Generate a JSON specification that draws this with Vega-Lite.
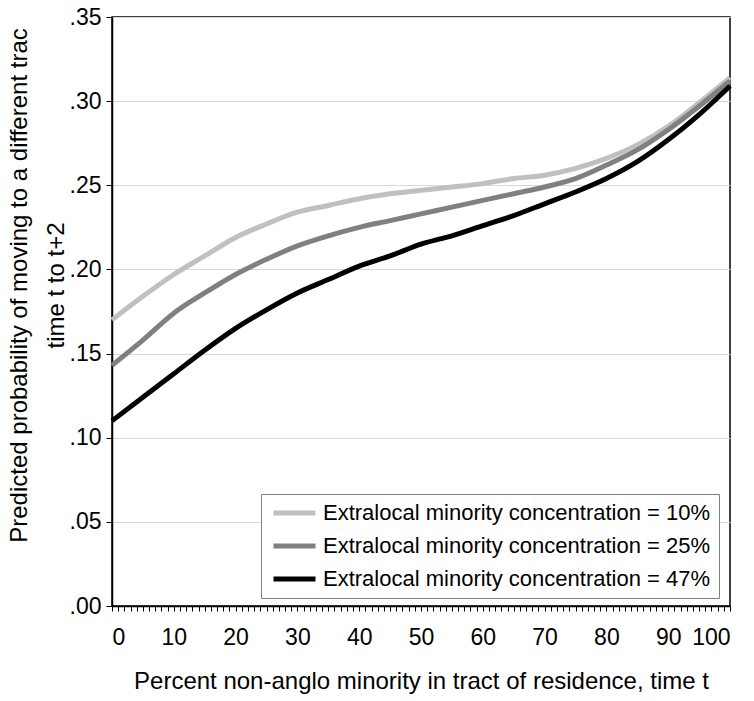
{
  "$schema": "https://vega.github.io/schema/vega-lite/v6.json",
  "autosize": {"type": "none"},
  "padding": {"left": 112, "top": 17, "right": 24, "bottom": 95},
  "width": 618,
  "height": 589,
  "background": "white",
  "config": {
    "font": "Liberation Sans",
    "view": {"stroke": "black", "strokeWidth": 1.5},
    "axis": {"labelFont": "Liberation Sans", "titleFont": "Liberation Sans", "labelColor": "black", "titleColor": "black", "titleFontWeight": "normal"}
  },
  "datasets": {
    "curves": [
      {"x": 0, "s": "Extralocal minority concentration = 10%", "p": 0.170},
      {"x": 5, "s": "Extralocal minority concentration = 10%", "p": 0.184},
      {"x": 10, "s": "Extralocal minority concentration = 10%", "p": 0.197},
      {"x": 15, "s": "Extralocal minority concentration = 10%", "p": 0.208},
      {"x": 20, "s": "Extralocal minority concentration = 10%", "p": 0.219},
      {"x": 25, "s": "Extralocal minority concentration = 10%", "p": 0.227},
      {"x": 30, "s": "Extralocal minority concentration = 10%", "p": 0.234},
      {"x": 35, "s": "Extralocal minority concentration = 10%", "p": 0.238},
      {"x": 40, "s": "Extralocal minority concentration = 10%", "p": 0.242},
      {"x": 45, "s": "Extralocal minority concentration = 10%", "p": 0.245},
      {"x": 50, "s": "Extralocal minority concentration = 10%", "p": 0.247},
      {"x": 55, "s": "Extralocal minority concentration = 10%", "p": 0.249},
      {"x": 60, "s": "Extralocal minority concentration = 10%", "p": 0.251},
      {"x": 65, "s": "Extralocal minority concentration = 10%", "p": 0.254},
      {"x": 70, "s": "Extralocal minority concentration = 10%", "p": 0.256},
      {"x": 75, "s": "Extralocal minority concentration = 10%", "p": 0.260},
      {"x": 80, "s": "Extralocal minority concentration = 10%", "p": 0.266},
      {"x": 85, "s": "Extralocal minority concentration = 10%", "p": 0.274},
      {"x": 90, "s": "Extralocal minority concentration = 10%", "p": 0.285},
      {"x": 95, "s": "Extralocal minority concentration = 10%", "p": 0.299},
      {"x": 100, "s": "Extralocal minority concentration = 10%", "p": 0.314},
      {"x": 0, "s": "Extralocal minority concentration = 25%", "p": 0.143},
      {"x": 5, "s": "Extralocal minority concentration = 25%", "p": 0.158},
      {"x": 10, "s": "Extralocal minority concentration = 25%", "p": 0.174},
      {"x": 15, "s": "Extralocal minority concentration = 25%", "p": 0.186},
      {"x": 20, "s": "Extralocal minority concentration = 25%", "p": 0.197},
      {"x": 25, "s": "Extralocal minority concentration = 25%", "p": 0.206},
      {"x": 30, "s": "Extralocal minority concentration = 25%", "p": 0.214},
      {"x": 35, "s": "Extralocal minority concentration = 25%", "p": 0.220},
      {"x": 40, "s": "Extralocal minority concentration = 25%", "p": 0.225},
      {"x": 45, "s": "Extralocal minority concentration = 25%", "p": 0.229},
      {"x": 50, "s": "Extralocal minority concentration = 25%", "p": 0.233},
      {"x": 55, "s": "Extralocal minority concentration = 25%", "p": 0.237},
      {"x": 60, "s": "Extralocal minority concentration = 25%", "p": 0.241},
      {"x": 65, "s": "Extralocal minority concentration = 25%", "p": 0.245},
      {"x": 70, "s": "Extralocal minority concentration = 25%", "p": 0.249},
      {"x": 75, "s": "Extralocal minority concentration = 25%", "p": 0.254},
      {"x": 80, "s": "Extralocal minority concentration = 25%", "p": 0.262},
      {"x": 85, "s": "Extralocal minority concentration = 25%", "p": 0.271},
      {"x": 90, "s": "Extralocal minority concentration = 25%", "p": 0.283},
      {"x": 95, "s": "Extralocal minority concentration = 25%", "p": 0.297},
      {"x": 100, "s": "Extralocal minority concentration = 25%", "p": 0.312},
      {"x": 0, "s": "Extralocal minority concentration = 47%", "p": 0.110},
      {"x": 5, "s": "Extralocal minority concentration = 47%", "p": 0.124},
      {"x": 10, "s": "Extralocal minority concentration = 47%", "p": 0.138},
      {"x": 15, "s": "Extralocal minority concentration = 47%", "p": 0.152},
      {"x": 20, "s": "Extralocal minority concentration = 47%", "p": 0.165},
      {"x": 25, "s": "Extralocal minority concentration = 47%", "p": 0.176},
      {"x": 30, "s": "Extralocal minority concentration = 47%", "p": 0.186},
      {"x": 35, "s": "Extralocal minority concentration = 47%", "p": 0.194},
      {"x": 40, "s": "Extralocal minority concentration = 47%", "p": 0.202},
      {"x": 45, "s": "Extralocal minority concentration = 47%", "p": 0.208},
      {"x": 50, "s": "Extralocal minority concentration = 47%", "p": 0.215},
      {"x": 55, "s": "Extralocal minority concentration = 47%", "p": 0.220},
      {"x": 60, "s": "Extralocal minority concentration = 47%", "p": 0.226},
      {"x": 65, "s": "Extralocal minority concentration = 47%", "p": 0.232},
      {"x": 70, "s": "Extralocal minority concentration = 47%", "p": 0.239},
      {"x": 75, "s": "Extralocal minority concentration = 47%", "p": 0.246},
      {"x": 80, "s": "Extralocal minority concentration = 47%", "p": 0.254},
      {"x": 85, "s": "Extralocal minority concentration = 47%", "p": 0.264},
      {"x": 90, "s": "Extralocal minority concentration = 47%", "p": 0.277},
      {"x": 95, "s": "Extralocal minority concentration = 47%", "p": 0.292},
      {"x": 100, "s": "Extralocal minority concentration = 47%", "p": 0.309}
    ]
  },
  "data": {"name": "curves"},
  "mark": {"type": "line", "strokeWidth": 5, "interpolate": "monotone", "strokeCap": "butt"},
  "encoding": {
    "x": {
      "field": "x", "type": "quantitative",
      "scale": {"domain": [0, 100], "nice": false, "zero": false},
      "axis": {
        "values": [0,1,2,3,4,5,6,7,8,9,10,11,12,13,14,15,16,17,18,19,20,21,22,23,24,25,26,27,28,29,30,31,32,33,34,35,36,37,38,39,40,41,42,43,44,45,46,47,48,49,50,51,52,53,54,55,56,57,58,59,60,61,62,63,64,65,66,67,68,69,70,71,72,73,74,75,76,77,78,79,80,81,82,83,84,85,86,87,88,89,90,91,92,93,94,95,96,97,98,99,100],
        "labelExpr": "datum.value % 10 === 0 ? datum.label : ''",
        "labelOverlap": false,
        "labelBound": false,
        "labelFontSize": 23,
        "labelPadding": 15,
        "tickSize": 5,
        "tickColor": "black",
        "tickWidth": 1,
        "domainColor": "black",
        "domainWidth": 1.5,
        "grid": false,
        "title": "Percent non-anglo minority in tract of residence, time t",
        "titleFontSize": 24,
        "titleBaseline": "alphabetic",
        "titleY": 82
      }
    },
    "y": {
      "field": "p", "type": "quantitative",
      "scale": {"domain": [0, 0.35], "nice": false, "zero": false},
      "axis": {
        "values": [0, 0.05, 0.1, 0.15, 0.2, 0.25, 0.3, 0.35],
        "labelExpr": "replace(format(datum.value, '.2f'), '0.', '.')",
        "labelFontSize": 23,
        "labelPadding": 5,
        "tickSize": 6,
        "tickColor": "black",
        "domainColor": "black",
        "domainWidth": 1.5,
        "grid": true,
        "gridColor": "#d9d9d9",
        "gridWidth": 1,
        "title": ["Predicted probability of moving to a different trac", "time t to t+2"],
        "titleFontSize": 24,
        "titleAngle": -90,
        "titleAlign": "center",
        "titleBaseline": "top",
        "titleLineHeight": 37,
        "titleX": -105,
        "titleY": 268
      }
    },
    "color": {
      "field": "s", "type": "nominal",
      "scale": {
        "domain": ["Extralocal minority concentration = 10%", "Extralocal minority concentration = 25%", "Extralocal minority concentration = 47%"],
        "range": ["#c0c0c0", "#808080", "#000000"]
      },
      "legend": {
        "title": null,
        "orient": "none",
        "legendX": 149,
        "legendY": 477,
        "direction": "vertical",
        "strokeColor": "#808080",
        "fillColor": "white",
        "padding": 8,
        "symbolType": "stroke",
        "symbolSize": 1764,
        "symbolStrokeWidth": 5,
        "symbolOffset": 2,
        "clipHeight": 22,
        "rowPadding": 11,
        "labelFont": "Liberation Sans",
        "labelFontSize": 22,
        "labelColor": "black",
        "labelOffset": 5,
        "labelLimit": 500
      }
    }
  }
}
